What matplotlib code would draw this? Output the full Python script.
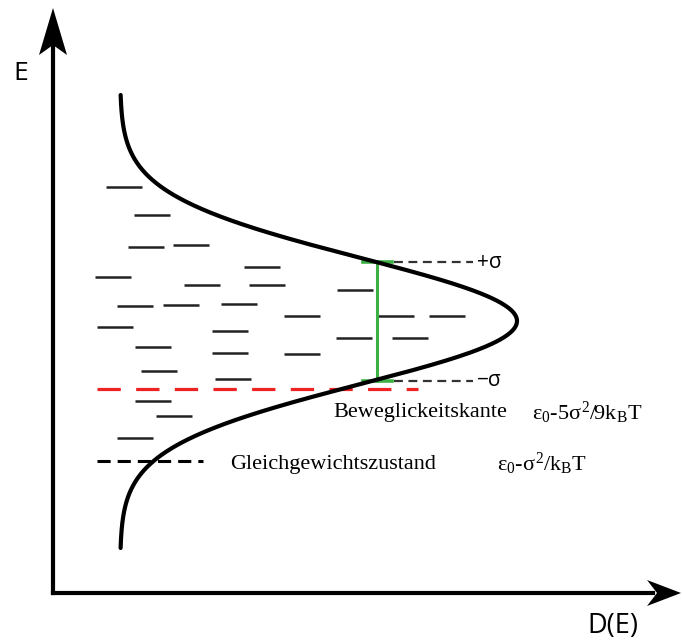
import numpy as np
import matplotlib
matplotlib.use("Agg")
import matplotlib.pyplot as plt
from matplotlib.patches import Polygon

plt.rcParams['mathtext.fontset'] = 'custom'
plt.rcParams['mathtext.rm'] = 'Liberation Serif'
plt.rcParams['mathtext.it'] = 'Liberation Serif'
plt.rcParams['mathtext.bf'] = 'Liberation Serif:bold'

# ---- data (D = density-of-states axis, E = energy axis, arbitrary units) ----
E0 = 272.0          # centre of the Gaussian DOS
SIGMA = 63.0        # width of the Gaussian
D_BASE = 67.0       # offset of the curve from the E axis
D_AMP = 397.0       # peak height of the DOS
E_RANGE = [45.0, 498.0]

# localized states (start of level on D axis, energy)
level_d = [53, 81, 75, 120, 191, 42, 131, 196, 64, 110, 168, 231, 44, 159,
           82, 159, 231, 88, 162, 82, 103, 64, 284, 325, 376, 283, 339]
level_e = [406, 378, 346, 348, 326, 316, 308, 308, 287, 288, 289, 277, 266, 262,
           246, 240, 239, 222, 214, 192, 177, 155, 303, 277, 277, 255, 255]
LEVEL_LEN = 36

sigma_plus_e = 331
sigma_minus_e = 212
mobility_edge_e = 204
equilibrium_e = 132

labels_right = ["+σ", "−σ"]
mobility_label = "Beweglickeitskante"
mobility_formula = r"$\varepsilon_0$-5$\sigma^2$/9k$_\mathrm{B}$T"
equilibrium_label = "Gleichgewichtszustand"
equilibrium_formula = r"$\varepsilon_0$-$\sigma^2$/k$_\mathrm{B}$T"

# ---- figure ----
fig = plt.figure(figsize=(6.82, 6.40), dpi=100)
ax = fig.add_axes([0, 0, 1, 1])
ax.set_xlim(-53, 629)
ax.set_ylim(-47, 593)
ax.axis('off')

# axes with arrows
ax.plot([0, 0], [0, 548], color='black', lw=3.0, solid_capstyle='projecting')
ax.plot([0, 600], [0, 0], color='black', lw=3.0, solid_capstyle='projecting')
ax.add_patch(Polygon([[0, 585], [-14, 538], [0, 548], [14, 538]],
                     closed=True, color='black', lw=0))
ax.add_patch(Polygon([[628, 0], [594, 13], [604, 0], [594, -13]],
                     closed=True, color='black', lw=0))
sans = ['Open Sans', 'DejaVu Sans']
ax.text(-32, 520, "E", fontsize=19, family=sans, ha='center', va='center')
ax.text(560, -33, "D(E)", fontsize=19.5, family=sans, ha='center', va='center')

# Gaussian DOS
E = np.linspace(E_RANGE[0], E_RANGE[1], 600)
D = D_BASE + D_AMP * np.exp(-(E - E0) ** 2 / (2 * SIGMA ** 2))
ax.plot(D, E, color='black', lw=3.0, solid_capstyle='round', zorder=5)

# localized states
for d, e in zip(level_d, level_e):
    ax.plot([d, d + LEVEL_LEN], [e, e], color='#222222', lw=1.8,
            solid_capstyle='butt')

# +/- sigma markers
green = '#3cb043'
ax.plot([324, 324], [sigma_minus_e, sigma_plus_e], color=green, lw=2.2, zorder=4)
for e in (sigma_plus_e, sigma_minus_e):
    ax.plot([310, 339], [e, e], color=green, lw=2.6, zorder=4)
    ax.plot([341, 420], [e, e], color='#333333', lw=1.6, dashes=(4, 2.5))
ax.text(424, sigma_plus_e, labels_right[0], fontsize=15, family=sans,
        ha='left', va='center')
ax.text(424, sigma_minus_e, labels_right[1], fontsize=15, family=sans,
        ha='left', va='center')

# mobility edge (red dashed)
ax.plot([44, 365], [mobility_edge_e, mobility_edge_e], color='#ee2222', lw=2.3,
        dashes=(7.3, 4.8))
ax.text(280, 180, mobility_label, fontsize=16, family='Liberation Serif',
        ha='left', va='center')
ax.text(479, 180, mobility_formula, fontsize=16, family='Liberation Serif',
        ha='left', va='center')

# equilibrium level
ax.plot([44, 150], [equilibrium_e, equilibrium_e], color='black', lw=2.2,
        dashes=(4.3, 2.3))
ax.text(177, 129, equilibrium_label, fontsize=16,
        family='Liberation Serif', ha='left', va='center')
ax.text(444, 129, equilibrium_formula, fontsize=16,
        family='Liberation Serif', ha='left', va='center')

fig.savefig("out.png", dpi=100)
